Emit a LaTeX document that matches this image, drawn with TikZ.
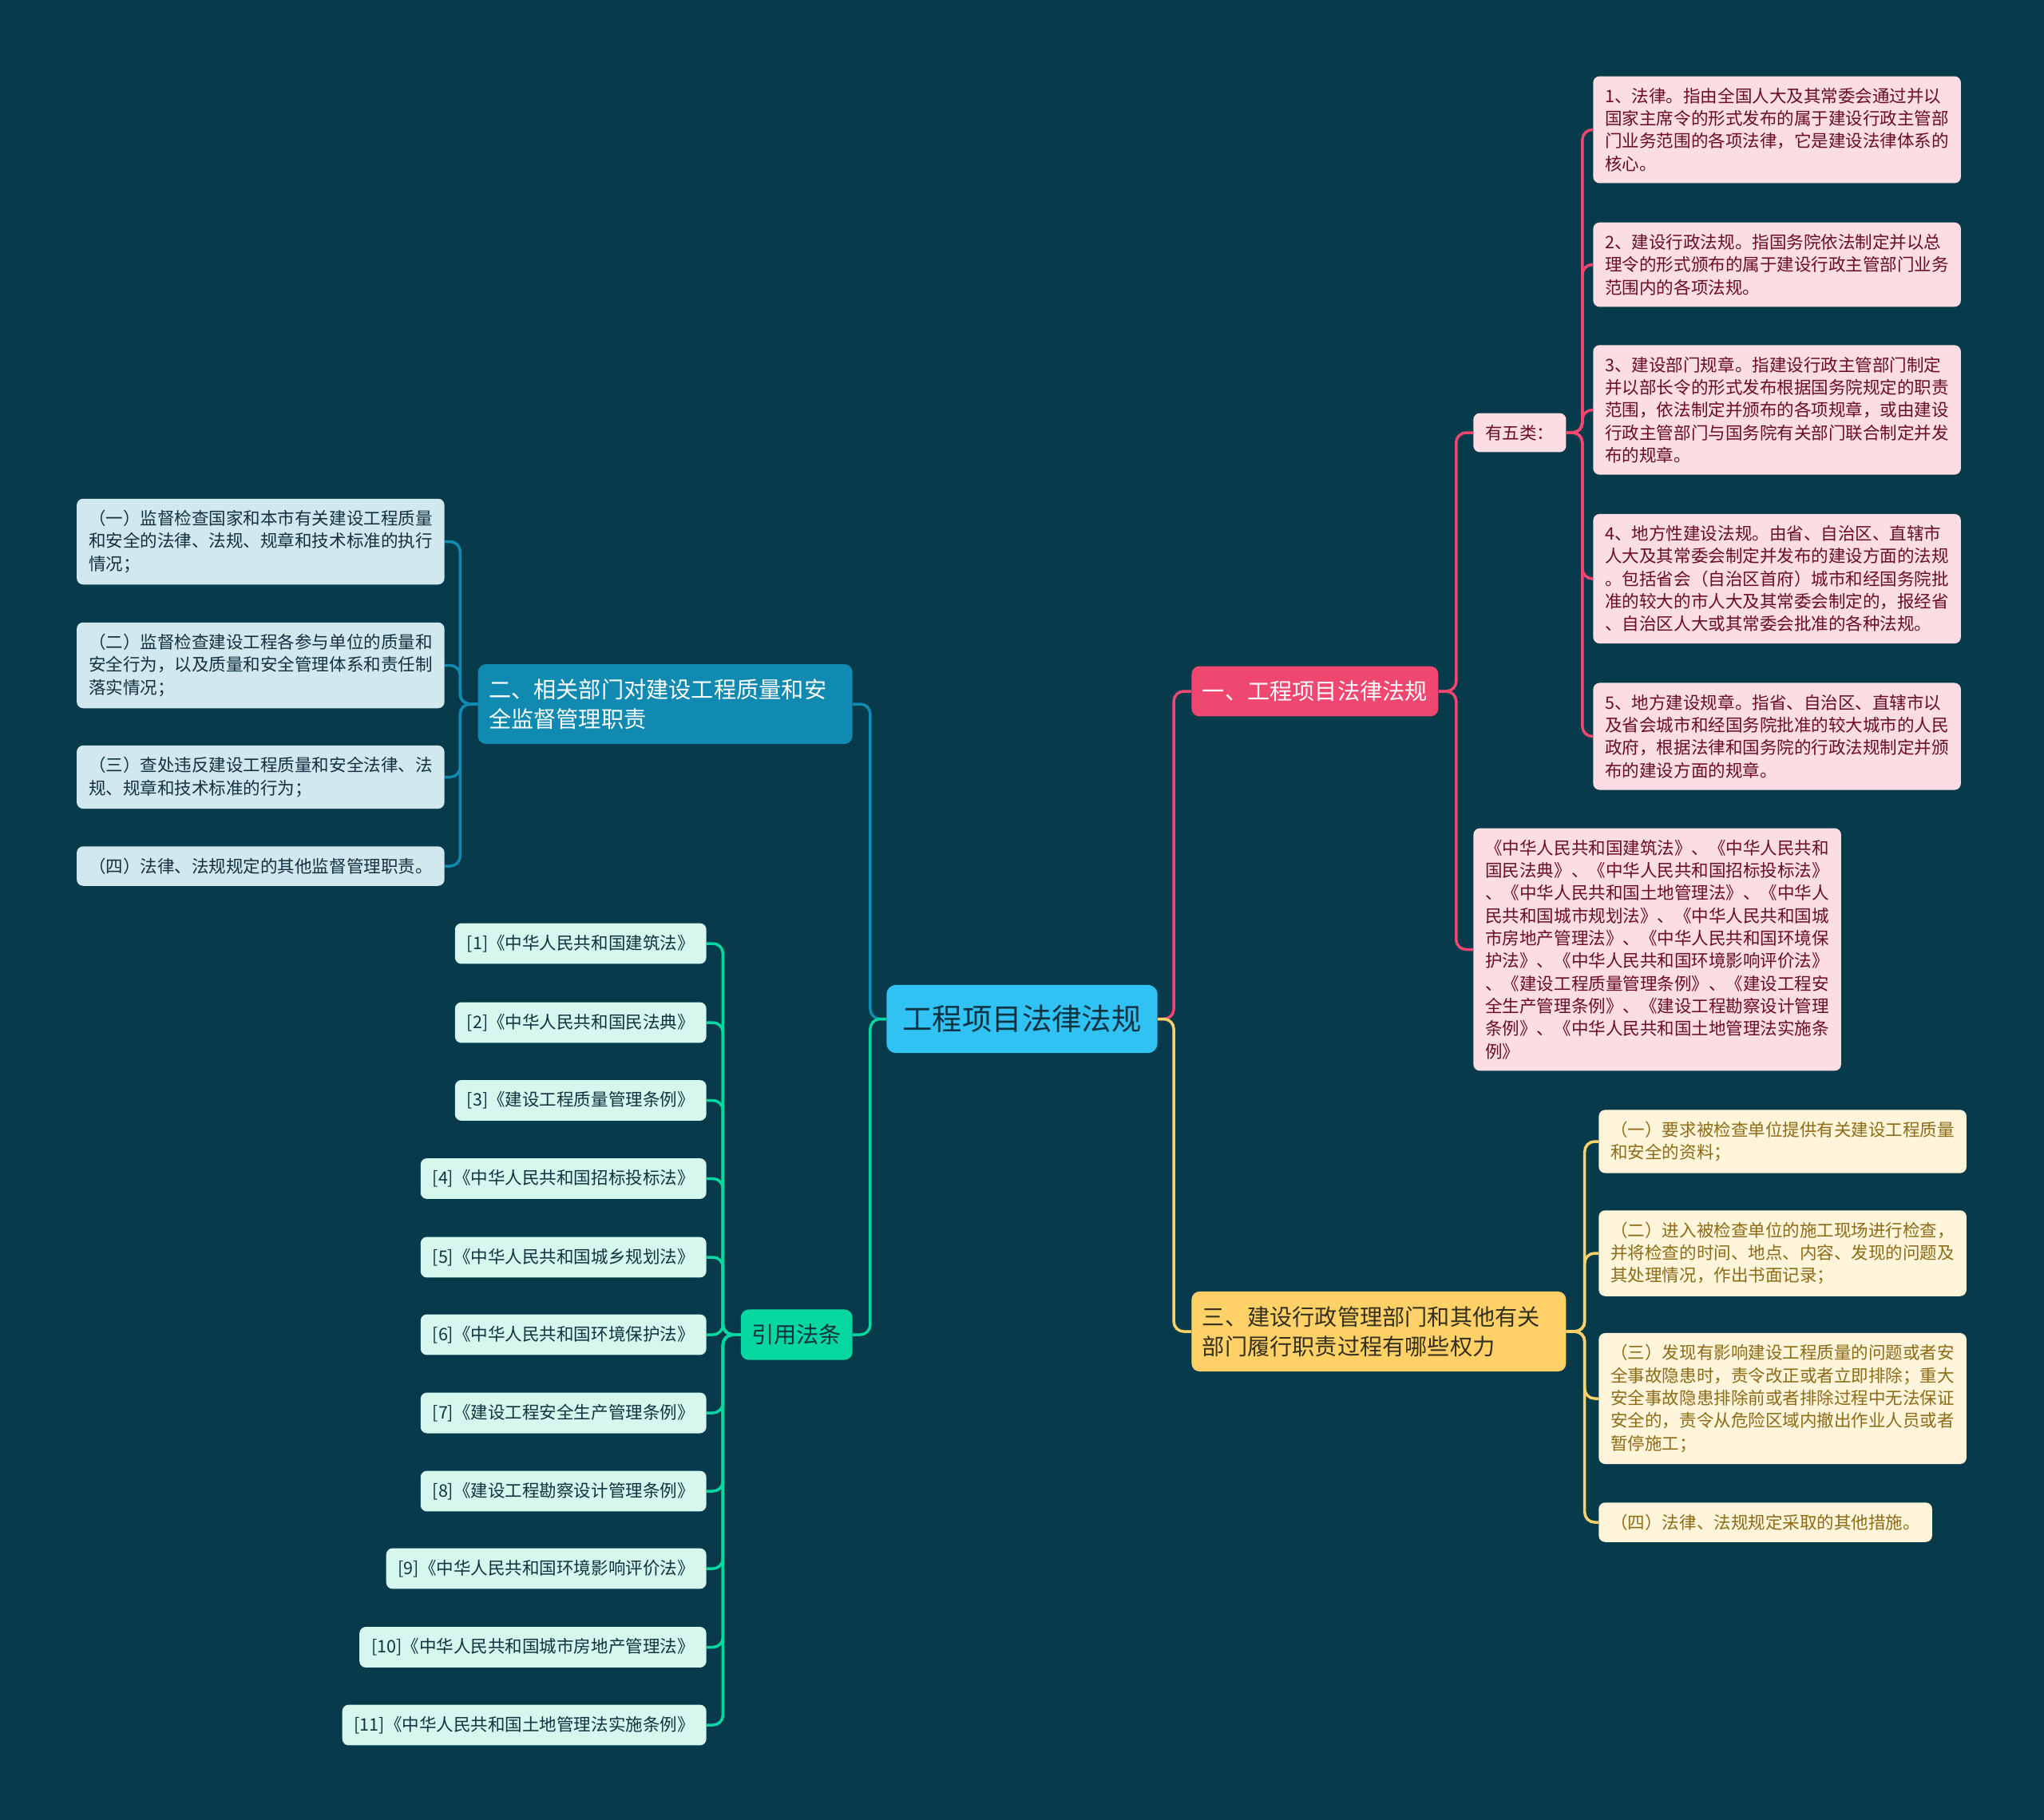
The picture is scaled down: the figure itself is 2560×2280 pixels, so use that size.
\documentclass[tikz,border=0pt]{standalone}
\usepackage{fontspec}
\setmainfont{Noto Sans CJK SC}
\usepackage{tikz}
\usepackage{xcolor}
\definecolor{bgteal}{HTML}{073B4C}
\definecolor{rootblue}{HTML}{30C2F2}
\definecolor{roottext}{HTML}{0D3343}
\definecolor{lawpink}{HTML}{EF476F}
\definecolor{lawpinklight}{HTML}{FCDDE4}
\definecolor{lawpinktext}{HTML}{6A0C24}
\definecolor{dutyblue}{HTML}{118AB2}
\definecolor{dutybluelight}{HTML}{D2E8EF}
\definecolor{dutybluetext}{HTML}{12313F}
\definecolor{powergold}{HTML}{FFD166}
\definecolor{powergoldlight}{HTML}{FFF5DA}
\definecolor{powergoldtext}{HTML}{8D6B17}
\definecolor{powerdark}{HTML}{33301F}
\definecolor{citegreen}{HTML}{06D6A0}
\definecolor{citegreenlight}{HTML}{D6F7EE}
\definecolor{citegreentext}{HTML}{10333F}

\begin{document}
\begin{tikzpicture}[x=0.2mm,y=-0.2mm]  % <-- one unit = one pixel of the sketch

\tikzset{
rootnode/.style={
fill=rootblue,
text=roottext,
rounded corners=2.4mm,
inner xsep=4mm,
inner ysep=5.1mm,
font=\fontsize{21.3}{26}\selectfont
},
mainbranch/.style={
rounded corners=2mm,
inner xsep=2.7mm,
inner ysep=3.7mm,
align=left,
font=\fontsize{16.05}{21}\selectfont
},
leafbox/.style={
rounded corners=1.6mm,
inner xsep=3mm,
inner ysep=2.9mm,
align=left,
font=\fontsize{12.25}{16.1}\selectfont
},
lawleaf/.style={leafbox,fill=lawpinklight,text=lawpinktext},
dutyleaf/.style={leafbox,fill=dutybluelight,text=dutybluetext},
powerleaf/.style={leafbox,fill=powergoldlight,text=powergoldtext},
citeleaf/.style={leafbox,fill=citegreenlight,text=citegreentext},
lawline/.style={draw=lawpink,line width=0.7mm,rounded corners=2.5mm},
dutyline/.style={draw=dutyblue,line width=0.7mm,rounded corners=2.5mm},
powerline/.style={draw=powergold,line width=0.7mm,rounded corners=2.5mm},
citeline/.style={draw=citegreen,line width=0.7mm,rounded corners=2.5mm}
}

\fill[bgteal] (0,0) rectangle (2560,2280);

%----------------------------------
% ROOT AND BRANCHES
%----------------------------------

\node[rootnode] (root) at (1280,1276.5) {工程项目法律法规};

\node[mainbranch,fill=lawpink,text=white,anchor=west] (b1) at (1492,866) {一、工程项目法律法规};
\node[mainbranch,fill=powergold,text=powerdark,anchor=west,text width=88.4mm] (b3) at (1492,1668)
{三、建设行政管理部门和其他有关\\部门履行职责过程有哪些权力};
\node[mainbranch,fill=dutyblue,text=white,anchor=east,text width=88.4mm] (b2) at (1068,882)
{二、相关部门对建设工程质量和安\\全监督管理职责};
\node[mainbranch,fill=citegreen,text=citegreentext,anchor=east] (b4) at (1068,1672) {引用法条};

%----------------------------------
% LAWS (PINK)
%----------------------------------

\node[lawleaf,anchor=west] (wu) at (1845,542) {有五类：};

\node[lawleaf,anchor=west] (p1) at (1995,162.5)
{1、法律。指由全国人大及其常委会通过并以\\
国家主席令的形式发布的属于建设行政主管部\\
门业务范围的各项法律，它是建设法律体系的\\
核心。};
\node[lawleaf,anchor=west] (p2) at (1995,331.5)
{2、建设行政法规。指国务院依法制定并以总\\
理令的形式颁布的属于建设行政主管部门业务\\
范围内的各项法规。};
\node[lawleaf,anchor=west] (p3) at (1995,513.5)
{3、建设部门规章。指建设行政主管部门制定\\
并以部长令的形式发布根据国务院规定的职责\\
范围，依法制定并颁布的各项规章，或由建设\\
行政主管部门与国务院有关部门联合制定并发\\
布的规章。};
\node[lawleaf,anchor=west] (p4) at (1995,725)
{4、地方性建设法规。由省、自治区、直辖市\\
人大及其常委会制定并发布的建设方面的法规\\
。包括省会（自治区首府）城市和经国务院批\\
准的较大的市人大及其常委会制定的，报经省\\
、自治区人大或其常委会批准的各种法规。};
\node[lawleaf,anchor=west] (p5) at (1995,922.5)
{5、地方建设规章。指省、自治区、直辖市以\\
及省会城市和经国务院批准的较大城市的人民\\
政府，根据法律和国务院的行政法规制定并颁\\
布的建设方面的规章。};

\node[lawleaf,anchor=west] (pbig) at (1845,1189.5)
{《中华人民共和国建筑法》、《中华人民共和\\
国民法典》、《中华人民共和国招标投标法》\\
、《中华人民共和国土地管理法》、《中华人\\
民共和国城市规划法》、《中华人民共和国城\\
市房地产管理法》、《中华人民共和国环境保\\
护法》、《中华人民共和国环境影响评价法》\\
、《建设工程质量管理条例》、《建设工程安\\
全生产管理条例》、《建设工程勘察设计管理\\
条例》、《中华人民共和国土地管理法实施条\\
例》};

%----------------------------------
% POWERS (YELLOW)
%----------------------------------

\node[powerleaf,anchor=west] (y1) at (2002,1430)
{（一）要求被检查单位提供有关建设工程质量\\
和安全的资料；};
\node[powerleaf,anchor=west] (y2) at (2002,1570)
{（二）进入被检查单位的施工现场进行检查，\\
并将检查的时间、地点、内容、发现的问题及\\
其处理情况，作出书面记录；};
\node[powerleaf,anchor=west] (y3) at (2002,1752)
{（三）发现有影响建设工程质量的问题或者安\\
全事故隐患时，责令改正或者立即排除；重大\\
安全事故隐患排除前或者排除过程中无法保证\\
安全的，责令从危险区域内撤出作业人员或者\\
暂停施工；};
\node[powerleaf,anchor=west] (y4) at (2002,1907)
{（四）法律、法规规定采取的其他措施。};

%----------------------------------
% DUTIES (BLUE)
%----------------------------------

\node[dutyleaf,anchor=east] (q1) at (557,678.5)
{（一）监督检查国家和本市有关建设工程质量\\
和安全的法律、法规、规章和技术标准的执行\\
情况；};
\node[dutyleaf,anchor=east] (q2) at (557,833.5)
{（二）监督检查建设工程各参与单位的质量和\\
安全行为，以及质量和安全管理体系和责任制\\
落实情况；};
\node[dutyleaf,anchor=east] (q3) at (557,973.5)
{（三）查处违反建设工程质量和安全法律、法\\
规、规章和技术标准的行为；};
\node[dutyleaf,anchor=east] (q4) at (557,1085)
{（四）法律、法规规定的其他监督管理职责。};

%----------------------------------
% CITED LAWS (GREEN)
%----------------------------------

\node[citeleaf,anchor=east] (g1) at (885,1182) {[1]《中华人民共和国建筑法》};
\node[citeleaf,anchor=east] (g2) at (885,1281) {[2]《中华人民共和国民法典》};
\node[citeleaf,anchor=east] (g3) at (885,1378.5) {[3]《建设工程质量管理条例》};
\node[citeleaf,anchor=east] (g4) at (885,1476.5) {[4]《中华人民共和国招标投标法》};
\node[citeleaf,anchor=east] (g5) at (885,1575) {[5]《中华人民共和国城乡规划法》};
\node[citeleaf,anchor=east] (g6) at (885,1672) {[6]《中华人民共和国环境保护法》};
\node[citeleaf,anchor=east] (g7) at (885,1770) {[7]《建设工程安全生产管理条例》};
\node[citeleaf,anchor=east] (g8) at (885,1868) {[8]《建设工程勘察设计管理条例》};
\node[citeleaf,anchor=east] (g9) at (885,1965) {[9]《中华人民共和国环境影响评价法》};
\node[citeleaf,anchor=east] (g10) at (885,2063.5) {[10]《中华人民共和国城市房地产管理法》};
\node[citeleaf,anchor=east] (g11) at (885,2161) {[11]《中华人民共和国土地管理法实施条例》};

%----------------------------------
% CONNECTORS
%----------------------------------

\draw[lawline] (root.east) -- ++(20,0) |- (b1.west);
\draw[powerline] (root.east) -- ++(20,0) |- (b3.west);
\draw[dutyline] (root.west) -- ++(-20,0) |- (b2.east);
\draw[citeline] (root.west) -- ++(-20,0) |- (b4.east);

\draw[lawline] (b1.east) -- ++(22,0) |- (wu.west);
\draw[lawline] (b1.east) -- ++(22,0) |- (pbig.west);
\draw[lawline] (wu.east) -- ++(20,0) |- (p1.west);
\draw[lawline] (wu.east) -- ++(20,0) |- (p2.west);
\draw[lawline] (wu.east) -- ++(20,0) |- (p3.west);
\draw[lawline] (wu.east) -- ++(20,0) |- (p4.west);
\draw[lawline] (wu.east) -- ++(20,0) |- (p5.west);

\draw[powerline] (b3.east) -- ++(23,0) |- (y1.west);
\draw[powerline] (b3.east) -- ++(23,0) |- (y2.west);
\draw[powerline] (b3.east) -- ++(23,0) |- (y3.west);
\draw[powerline] (b3.east) -- ++(23,0) |- (y4.west);

\draw[dutyline] (b2.west) -- ++(-22,0) |- (q1.east);
\draw[dutyline] (b2.west) -- ++(-22,0) |- (q2.east);
\draw[dutyline] (b2.west) -- ++(-22,0) |- (q3.east);
\draw[dutyline] (b2.west) -- ++(-22,0) |- (q4.east);

\draw[citeline] (b4.west) -- ++(-22,0) |- (g1.east);
\draw[citeline] (b4.west) -- ++(-22,0) |- (g2.east);
\draw[citeline] (b4.west) -- ++(-22,0) |- (g3.east);
\draw[citeline] (b4.west) -- ++(-22,0) |- (g4.east);
\draw[citeline] (b4.west) -- ++(-22,0) |- (g5.east);
\draw[citeline] (b4.west) -- ++(-22,0) |- (g6.east);
\draw[citeline] (b4.west) -- ++(-22,0) |- (g7.east);
\draw[citeline] (b4.west) -- ++(-22,0) |- (g8.east);
\draw[citeline] (b4.west) -- ++(-22,0) |- (g9.east);
\draw[citeline] (b4.west) -- ++(-22,0) |- (g10.east);
\draw[citeline] (b4.west) -- ++(-22,0) |- (g11.east);

\end{tikzpicture}
\end{document}
